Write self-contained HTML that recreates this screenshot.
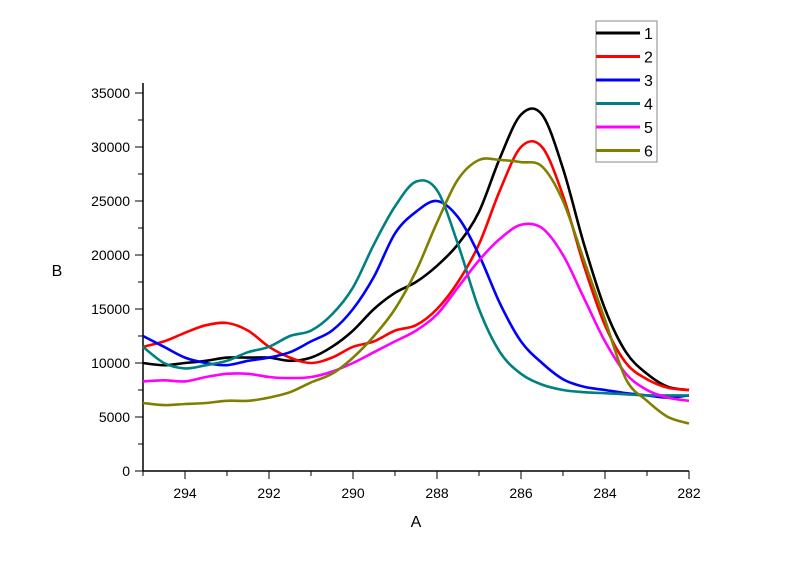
<!DOCTYPE html>
<html><head><meta charset="utf-8"><style>
body{margin:0;background:#fff;}
svg{display:block;font-family:"Liberation Sans",Arial,sans-serif;}
</style></head><body>
<svg id="chart" width="800" height="565" viewBox="0 0 800 565"></svg>
<script>
const xs = [295,294.5,294,293.5,293,292.5,292,291.5,291,290.5,290,289.5,289,288.5,288,287.5,287,286.5,286,285.5,285,284.5,284,283.5,283,282.5,282];
const s1 = [10000,9800,10000,10200,10500,10500,10500,10200,10500,11500,13000,15000,16500,17500,19000,21000,24000,29000,33000,33000,28000,21000,15000,11000,9000,7800,7500];
const s2 = [11500,12000,12800,13500,13700,13000,11500,10500,10000,10500,11500,12000,13000,13500,15000,17500,21000,26000,30000,30000,25500,19000,13500,10000,8500,7700,7500];
const s3 = [12500,11500,10500,10000,9800,10200,10500,11000,12000,13000,15000,18000,22000,24000,25000,23500,20000,15500,12000,10000,8500,7800,7500,7200,7000,6800,7000];
const s4 = [11500,10000,9500,9800,10200,11000,11500,12500,13000,14500,17000,21000,24500,26800,26000,21000,15000,11000,9000,8000,7500,7300,7200,7100,7000,7000,7000];
const s5 = [8300,8400,8300,8700,9000,9000,8700,8600,8700,9200,10000,11000,12000,13000,14500,17000,19500,21500,22800,22500,20000,16000,12000,9000,7500,6800,6500];
const s6 = [6300,6100,6200,6300,6500,6500,6800,7300,8200,9000,10500,12500,15000,18500,23000,27000,28800,28800,28600,28200,25000,19500,14000,8500,6500,5000,4400];
const seriesNames = ["1","2","3","4","5","6"];
const colors = ["#000000","#ff0000","#0000ff","#008080","#ff00ff","#808000"];
const xTicks = [294,292,290,288,286,284,282];
const yTicks = [0,5000,10000,15000,20000,25000,30000,35000];

const NS="http://www.w3.org/2000/svg";
const svg=document.getElementById('chart');
const X0=143,X1=689,Y0=471,Y1=93;
const xMin=295,xMax=282,yMin=0,yMax=35000;
const sx=v=>X0+(v-xMin)/(xMax-xMin)*(X1-X0);
const sy=v=>Y0-(v-yMin)/(yMax-yMin)*(Y0-Y1);
function el(tag,attrs,parent){const e=document.createElementNS(NS,tag);for(const k in attrs)e.setAttribute(k,attrs[k]);(parent||svg).appendChild(e);return e;}
function smooth(pts){
  let d='M'+pts[0][0].toFixed(1)+','+pts[0][1].toFixed(1);
  for(let i=0;i<pts.length-1;i++){
    const p0=pts[i-1]||pts[i],p1=pts[i],p2=pts[i+1],p3=pts[i+2]||p2;
    const c1=[p1[0]+(p2[0]-p0[0])/6,p1[1]+(p2[1]-p0[1])/6];
    const c2=[p2[0]-(p3[0]-p1[0])/6,p2[1]-(p3[1]-p1[1])/6];
    d+=' C'+c1[0].toFixed(1)+','+c1[1].toFixed(1)+' '+c2[0].toFixed(1)+','+c2[1].toFixed(1)+' '+p2[0].toFixed(1)+','+p2[1].toFixed(1);
  }
  return d;
}

const axes=el('g',{});


const xl=el('line',{x1:X0,y1:Y0,x2:X1,y2:Y0,stroke:'#000','stroke-width':1.5},axes);


const yl=el('line',{x1:X0,y1:Y0,x2:X0,y2:Y1-10,stroke:'#000','stroke-width':1.5},axes);


for(let v=295;v>=282;v--){
  const major=xTicks.includes(v);
  el('line',{x1:sx(v),y1:Y0,x2:sx(v),y2:Y0+(major?8:5),stroke:'#000','stroke-width':1},axes);
}
xTicks.forEach(v=>{
  const t=el('text',{x:sx(v),y:Y0+27,'font-size':14,'text-anchor':'middle'},axes);
  t.textContent=v;
  
  
});
for(let v=0;v<=35000;v+=2500){
  const major=v%5000===0;
  el('line',{x1:X0,y1:sy(v),x2:X0-(major?8:5),y2:sy(v),stroke:'#000','stroke-width':1},axes);
}
yTicks.forEach(v=>{
  const t=el('text',{x:X0-13,y:sy(v)+5,'font-size':14,'text-anchor':'end'},axes);
  t.textContent=v;
  
  
});
const xt=el('text',{x:416,y:527,'font-size':16,'text-anchor':'middle'});
xt.textContent='A';


const yt=el('text',{x:57,y:276,'font-size':16,'text-anchor':'middle'});
yt.textContent='B';



[s1,s2,s3,s4,s5,s6].forEach((s,i)=>{
  const pts=s.map((v,j)=>[sx(xs[j]),sy(v)]);
  const p=el('path',{d:smooth(pts),fill:'none',stroke:colors[i],'stroke-width':2.6,'stroke-linejoin':'round'});
  
  
});

const lg=el('g',{});


el('rect',{x:596,y:21,width:61,height:141,fill:'#fff',stroke:'#888','stroke-width':1},lg);
seriesNames.forEach((n,i)=>{
  const y=33+i*23.5;
  const g=el('g',{},lg);
  
  
  el('line',{x1:596,y1:y,x2:640,y2:y,stroke:colors[i],'stroke-width':3},g);
  const t=el('text',{x:644,y:y+6,'font-size':16},g);
  t.textContent=n;
});
</script>
</body></html>
